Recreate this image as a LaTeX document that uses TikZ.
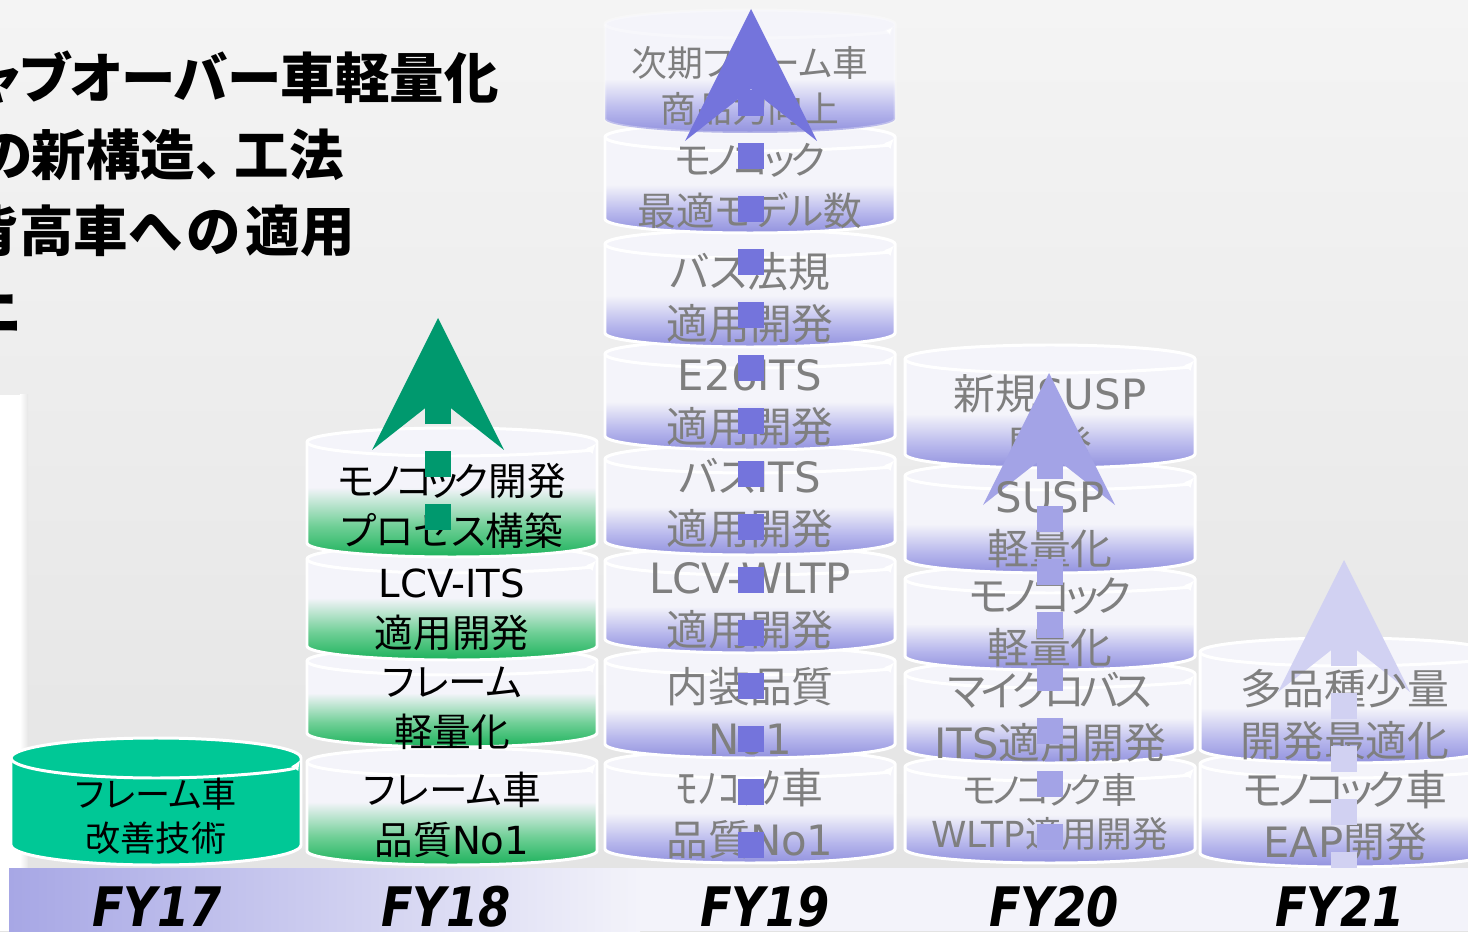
\documentclass[tikz,border=0pt]{standalone}
\usepackage{fontspec}
\usepackage{xcolor}
\usetikzlibrary{arrows.meta}

\newfontfamily\jpfont[RawFeature=+palt]{Noto Sans CJK JP}
\newfontfamily\latfont{DejaVu Sans}
\newfontfamily\fyfont[FakeStretch=0.85]{DejaVu Sans Bold Oblique}
\newcommand{\lat}[1]{{\latfont #1}}
\newcommand{\kn}[1]{{\addfontfeature{LetterSpace=-12}#1}}

\definecolor{bgtop}{HTML}{F4F4F4}
\definecolor{bgbot}{HTML}{E3E3E3}
\definecolor{canlight}{HTML}{F4F4FA}
\definecolor{tealfill}{HTML}{00C896}
\definecolor{greendark}{HTML}{1CB25B}
\definecolor{greenmid}{HTML}{6FCF96}
\definecolor{bluedark}{HTML}{9292DE}
\definecolor{bluemid}{HTML}{B6B6EC}
\definecolor{arrow18}{HTML}{00996E}
\definecolor{arrow19}{HTML}{7474DC}
\definecolor{arrow20}{HTML}{A3A3E6}
\definecolor{arrow21}{HTML}{D1D1F2}
\definecolor{txtgray}{HTML}{7F7F7F}
\definecolor{barleft}{HTML}{A7A7E5}
\definecolor{barright}{HTML}{F3F3FA}

\pgfdeclareverticalshading{tealcan}{100bp}{color(0bp)=(tealfill); color(100bp)=(tealfill)}
\pgfdeclareverticalshading{greencan}{100bp}{color(0bp)=(greendark); color(25bp)=(greendark); color(37bp)=(greenmid); color(52bp)=(canlight); color(100bp)=(canlight)}
\pgfdeclareverticalshading{bluecan}{100bp}{color(0bp)=(bluedark); color(25bp)=(bluedark); color(34bp)=(bluemid); color(47bp)=(canlight); color(100bp)=(canlight)}

% cylinder: [end radius]{shading}{center x}{top px}{bottom px}
\newcommand{\drawcan}[5][14]{%
  \pgfmathsetmacro{\cantop}{931-#4-#1}%
  \pgfmathsetmacro{\canbot}{931-#5+#1}%
  \shade[shading=#2] (#3-145,\cantop) -- (#3-145,\canbot)
    arc[start angle=180, end angle=360, x radius=145, y radius=#1]
    -- (#3+145,\cantop) arc[start angle=0, end angle=180, x radius=145, y radius=#1] -- cycle;
  \draw[canline] (#3-145,\cantop) -- (#3-145,\canbot)
    arc[start angle=180, end angle=360, x radius=145, y radius=#1]
    -- (#3+145,\cantop) arc[start angle=0, end angle=180, x radius=145, y radius=#1] -- cycle;
  \draw[canline, -{Latex[length=6pt, width=5pt]}] (#3-145,\cantop)
    arc[start angle=180, end angle=355, x radius=145, y radius=#1];
}
% big arrow: {colour}{center x}{apex px}
\newcommand{\trendhead}[3]{%
  \pgfmathsetmacro{\arrtip}{931-#3}%
  \fill[#1] (#2,\arrtip) -- (#2+66,\arrtip-132) -- (#2,\arrtip-80) -- (#2-66,\arrtip-132) -- cycle;
}
\newcommand{\trendshaft}[4]{%
  \pgfmathsetmacro{\arrtip}{931-#3}%
  \draw[#1, line width=0.52cm, dash pattern=on 0.52cm off 0.54cm] (#2,931-#4) -- (#2,\arrtip-80);
}

\begin{document}
\begin{tikzpicture}[x=0.02cm, y=0.02cm,
    canline/.style={draw=white, line width=1.7pt},
    lbl/.style={align=center, inner sep=0pt, text=txtgray, font=\jpfont\fontsize{23.8pt}{29.5pt}\selectfont},
    lblk/.style={lbl, text=black, font=\jpfont\fontsize{22pt}{28.5pt}\selectfont},
    titleline/.style={anchor=east, inner sep=0pt, font=\jpfont\bfseries\fontsize{31pt}{38pt}\selectfont},
    fylabel/.style={anchor=base, inner sep=0pt, font=\fyfont\fontsize{31pt}{31pt}\selectfont}
]
    \useasboundingbox (0,0) rectangle (1468,931);
    \clip (0,0) rectangle (1468,931);

    % background
    \shade[top color=bgtop, bottom color=bgbot] (0,0) rectangle (1468,931);
    \fill[white] (0,0) rectangle (20,536);
    \shade[left color=white, right color=bgbot!80!bgtop] (20,0) rectangle (28,536);

    % title
    \node[titleline] (title1) at (499,853) {キャブオーバー車軽量化};
    \node[titleline] (title2) at (344,776) {の新構造、\kern7pt工法};
    \node[titleline] (title3) at (355,700) {背高車へ\kern3pt の\kern3pt 適用};
    \node[titleline] (title4) at (22,617) {ニ};

    % FY17
    \drawcan[20]{tealcan}{156}{738}{865}
    \node[lbl, text=black, font=\jpfont\fontsize{20pt}{25pt}\selectfont] (fy17_frame) at (156,115) {フレーム車\\改善技術};

    % FY18
    \drawcan{greencan}{452}{748}{865}
    \drawcan{greencan}{452}{647}{747}
    \drawcan{greencan}{452}{545}{660}
    \drawcan{greencan}{452}{428}{557}
    \node[lblk] (fy18_mono) at (452,425) {\kn{モノコック}開発\\プロセス構築};
    \node[lblk] (fy18_lcv) at (452,321) {\lat{LCV-ITS}\\適用開発};
    \node[lblk] (fy18_light) at (452,223) {フレーム\\軽量化};
    \node[lblk] (fy18_quality) at (452,116) {フレーム車\\品質\lat{No1}};
    \trendshaft{arrow18}{438}{318}{530}
    \trendhead{arrow18}{438}{318}

    % FY19
    \drawcan{bluecan}{750}{750}{863}
    \drawcan{bluecan}{750}{647}{758}
    \drawcan{bluecan}{750}{547}{653}
    \drawcan{bluecan}{750}{445}{555}
    \drawcan{bluecan}{750}{340}{450}
    \drawcan{bluecan}{750}{230}{347}
    \drawcan{bluecan}{750}{123}{233}
    \begin{scope}[canline/.style={draw=white, line width=1.7pt, draw opacity=0.3}]
        \drawcan{bluecan}{750}{10}{133}
    \end{scope}
    \node[lbl, font=\jpfont\fontsize{20.4pt}{26pt}\selectfont] (fy19_next) at (750,845) {次期フレーム車\\商品力向上};
    \node[lbl, font=\jpfont\fontsize{22pt}{29.5pt}\selectfont] (fy19_models) at (750,745) {\kn{モノコック}\\最適モデル数};
    \node[lbl] (fy19_busreg) at (750,633) {バス法規\\適用開発};
    \node[lbl] (fy19_e26) at (750,528) {\lat{E26ITS}\\適用開発};
    \node[lbl] (fy19_busits) at (750,428) {バス\lat{ITS}\\適用開発};
    \node[lbl] (fy19_wltp) at (750,325) {\lat{LCV-WLTP}\\適用開発};
    \node[lbl] (fy19_interior) at (750,220) {内装品質\\\lat{No1}};
    \node[lbl] (fy19_mono) at (750,117) {ﾓﾉｺｯｸ車\\品質\lat{No1}};
    \trendshaft{arrow19}{751}{9}{858}
    \trendhead{arrow19}{751}{9}

    % FY20
    \drawcan{bluecan}{1050}{753}{863}
    \drawcan{bluecan}{1050}{660}{763}
    \drawcan{bluecan}{1050}{565}{670}
    \drawcan{bluecan}{1050}{462}{573}
    \drawcan{bluecan}{1050}{345}{468}
    \node[lbl] (fy20_susp) at (1050,511) {新規\lat{SUSP}\\開発};
    \trendhead{arrow20}{1049}{373}
    \node[lbl] (fy20_susplight) at (1050,406) {\lat{SUSP}\\軽量化};
    \node[lbl] (fy20_mono) at (1050,309) {\kn{モノコック}\\軽量化};
    \node[lbl] (fy20_microbus) at (1050,214) {\kn{マイクロバス}\\\lat{ITS}適用開発};
    \node[lbl, font=\jpfont\fontsize{20.4pt}{25.5pt}\selectfont] (fy20_wltp) at (1050,119) {\kn{モノコック}車\\\lat{WLTP}適用開発};
    \trendshaft{arrow20}{1050}{373}{850}

    % FY21
    \drawcan{bluecan}{1345}{750}{867}
    \drawcan{bluecan}{1345}{638}{763}
    \trendhead{arrow21}{1344}{560}
    \node[lbl] (fy21_variety) at (1345,216) {多品種少量\\開発最適化};
    \node[lbl] (fy21_eap) at (1345,115) {\kn{モノコック}車\\\lat{EAP}開発};
    \trendshaft{arrow21}{1344}{560}{878}

    % year bar
    \shade[left color=barleft, right color=barright] (9,0) rectangle (640,63);
    \fill[barright] (640,0) rectangle (1468,63);
    \node[fylabel] (fy17) at (157,5) {FY17};
    \node[fylabel] (fy18) at (446,5) {FY18};
    \node[fylabel] (fy19) at (765,5) {FY19};
    \node[fylabel] (fy20) at (1054,5) {FY20};
    \node[fylabel] (fy21) at (1340,5) {FY21};
\end{tikzpicture}
\end{document}
